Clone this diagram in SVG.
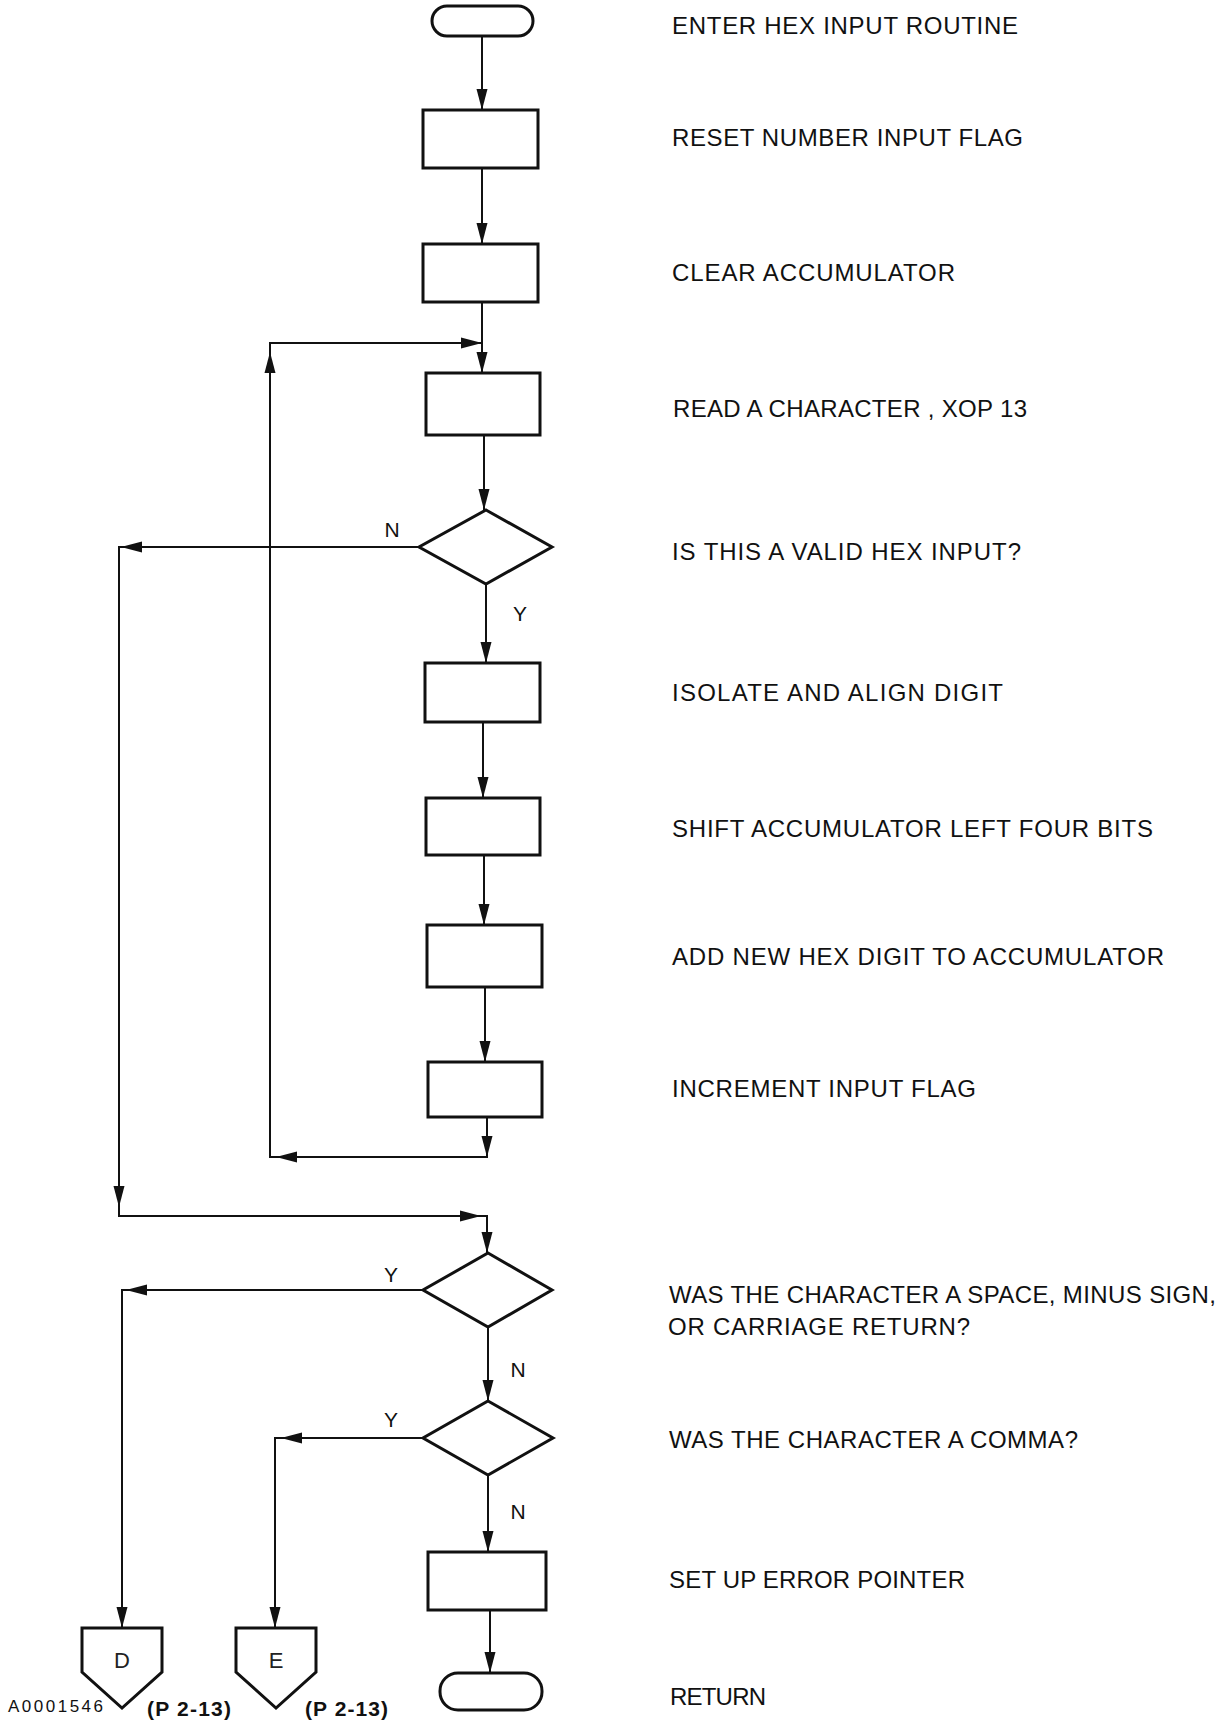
<svg xmlns="http://www.w3.org/2000/svg" width="1227" height="1721" viewBox="0 0 1227 1721">
  <defs>
    <marker id="arrow" markerUnits="userSpaceOnUse" markerWidth="22" markerHeight="12" refX="21" refY="6" orient="auto">
      <path d="M0,0.5 L21,6 L0,11.5 z" fill="#111"/>
    </marker>
    <style>
      .box { fill: #fff; stroke: #111; stroke-width: 3; }
      .dec { fill: #fff; stroke: #111; stroke-width: 3; stroke-linejoin: miter; }
      .term { fill: #fff; stroke: #111; stroke-width: 3; }
      .flow { fill: none; stroke: #111; stroke-width: 2; }
      .tip { fill: none; stroke: #111; stroke-width: 2; marker-end: url(#arrow); }
      .note { font-family: "Liberation Sans", Arial, sans-serif; font-size: 24px; fill: #111; }
      .yn { font-family: "Liberation Sans", Arial, sans-serif; font-size: 21px; fill: #111; text-anchor: middle; }
      .conn { font-family: "Liberation Sans", Arial, sans-serif; font-size: 22px; fill: #222; text-anchor: middle; }
      .ref { font-family: "Liberation Sans", Arial, sans-serif; font-size: 21px; font-weight: bold; fill: #111; }
      .code { font-family: "Liberation Sans", Arial, sans-serif; font-size: 17px; fill: #111; }
    </style>
  </defs>
  <rect width="1227" height="1721" fill="#fff"/>

  <!-- flow lines -->
  <g id="connectors">
    <path class="flow" d="M482,36 V110" marker-end="url(#arrow)"/>
    <path class="flow" d="M482,168 V244" marker-end="url(#arrow)"/>
    <path class="flow" d="M482,302 V373" marker-end="url(#arrow)"/>
    <path class="flow" d="M484,435 V510" marker-end="url(#arrow)"/>

    <!-- N exit of the hex test, down to the terminator tests -->
    <path class="flow" d="M419,547 H119 V1216 H487 V1253" marker-end="url(#arrow)"/>
    <path class="tip" d="M150,547 H121"/>
    <path class="tip" d="M119,1180 V1207"/>
    <path class="tip" d="M440,1216 H481"/>

    <path class="flow" d="M486,584 V663" marker-end="url(#arrow)"/>
    <path class="flow" d="M483,722 V798" marker-end="url(#arrow)"/>
    <path class="flow" d="M484,855 V925" marker-end="url(#arrow)"/>
    <path class="flow" d="M485,987 V1062" marker-end="url(#arrow)"/>

    <!-- loop back to read the next character -->
    <path class="flow" d="M487,1117 V1157 H270 V343 H482"/>
    <path class="tip" d="M487,1125 V1157"/>
    <path class="tip" d="M310,1157 H276"/>
    <path class="tip" d="M270,390 V352"/>
    <path class="tip" d="M440,343 H482"/>

    <!-- space / minus / CR exit to D -->
    <path class="flow" d="M423,1290 H122 V1628" marker-end="url(#arrow)"/>
    <path class="tip" d="M160,1290 H126"/>
    <path class="flow" d="M488,1327 V1401" marker-end="url(#arrow)"/>

    <!-- comma exit to E -->
    <path class="flow" d="M423,1438 H275 V1628" marker-end="url(#arrow)"/>
    <path class="tip" d="M315,1438 H281"/>
    <path class="flow" d="M488,1475 V1552" marker-end="url(#arrow)"/>

    <path class="flow" d="M490,1610 V1673" marker-end="url(#arrow)"/>

    <text class="yn" x="392" y="537">N</text>
    <text class="yn" x="520" y="621">Y</text>
    <text class="yn" x="391" y="1282">Y</text>
    <text class="yn" x="518" y="1377">N</text>
    <text class="yn" x="391" y="1427">Y</text>
    <text class="yn" x="518" y="1519">N</text>
  </g>

  <!-- flowchart symbols -->
  <g id="start"><rect class="term" x="432" y="6" width="101" height="30" rx="15"/></g>
  <g id="reset-flag"><rect class="box" x="423" y="110" width="115" height="58"/></g>
  <g id="clear-acc"><rect class="box" x="423" y="244" width="115" height="58"/></g>
  <g id="read-char"><rect class="box" x="426" y="373" width="114" height="62"/></g>
  <g id="valid-hex"><polygon class="dec" points="486,510 552,547 486,584 419,547"/></g>
  <g id="isolate"><rect class="box" x="425" y="663" width="115" height="59"/></g>
  <g id="shift"><rect class="box" x="426" y="798" width="114" height="57"/></g>
  <g id="add-digit"><rect class="box" x="427" y="925" width="115" height="62"/></g>
  <g id="inc-flag"><rect class="box" x="428" y="1062" width="114" height="55"/></g>
  <g id="space-minus-cr"><polygon class="dec" points="488,1253 552,1290 488,1327 423,1290"/></g>
  <g id="comma"><polygon class="dec" points="488,1401 553,1438 488,1475 423,1438"/></g>
  <g id="error-ptr"><rect class="box" x="428" y="1552" width="118" height="58"/></g>
  <g id="return"><rect class="term" x="440" y="1673" width="102" height="37" rx="18"/></g>
  <g id="offpage-d">
    <polygon class="box" points="82,1628 162,1628 162,1672 122,1708 82,1672"/>
    <text class="conn" x="122" y="1668">D</text>
  </g>
  <g id="offpage-e">
    <polygon class="box" points="236,1628 316,1628 316,1672 276,1708 236,1672"/>
    <text class="conn" x="276" y="1668">E</text>
  </g>

  <!-- descriptions -->
  <g id="notes">
    <text class="note" x="672" y="34" textLength="346" lengthAdjust="spacing">ENTER HEX INPUT ROUTINE</text>
    <text class="note" x="672" y="146" textLength="351" lengthAdjust="spacing">RESET NUMBER INPUT FLAG</text>
    <text class="note" x="672" y="281" textLength="283" lengthAdjust="spacing">CLEAR ACCUMULATOR</text>
    <text class="note" x="673" y="417" textLength="354" lengthAdjust="spacing">READ A CHARACTER , XOP 13</text>
    <text class="note" x="672" y="560" textLength="349" lengthAdjust="spacing">IS THIS A VALID HEX INPUT?</text>
    <text class="note" x="672" y="701" textLength="331" lengthAdjust="spacing">ISOLATE AND ALIGN DIGIT</text>
    <text class="note" x="672" y="837" textLength="481" lengthAdjust="spacing">SHIFT ACCUMULATOR LEFT FOUR BITS</text>
    <text class="note" x="672" y="965" textLength="492" lengthAdjust="spacing">ADD NEW HEX DIGIT TO ACCUMULATOR</text>
    <text class="note" x="672" y="1097" textLength="304" lengthAdjust="spacing">INCREMENT INPUT FLAG</text>
    <text class="note" x="669" y="1303" textLength="547" lengthAdjust="spacing">WAS THE CHARACTER A SPACE, MINUS SIGN,</text>
    <text class="note" x="668" y="1335" textLength="302" lengthAdjust="spacing">OR CARRIAGE RETURN?</text>
    <text class="note" x="669" y="1448" textLength="409" lengthAdjust="spacing">WAS THE CHARACTER A COMMA?</text>
    <text class="note" x="669" y="1588" textLength="296" lengthAdjust="spacing">SET UP ERROR POINTER</text>
    <text class="note" x="670" y="1705" textLength="96" lengthAdjust="spacing">RETURN</text>
  </g>

  <g id="refs">
    <text class="code" x="8" y="1712" textLength="95" lengthAdjust="spacing">A0001546</text>
    <text class="ref" x="147" y="1716" textLength="84" lengthAdjust="spacing">(P 2-13)</text>
    <text class="ref" x="305" y="1716" textLength="83" lengthAdjust="spacing">(P 2-13)</text>
  </g>
</svg>
